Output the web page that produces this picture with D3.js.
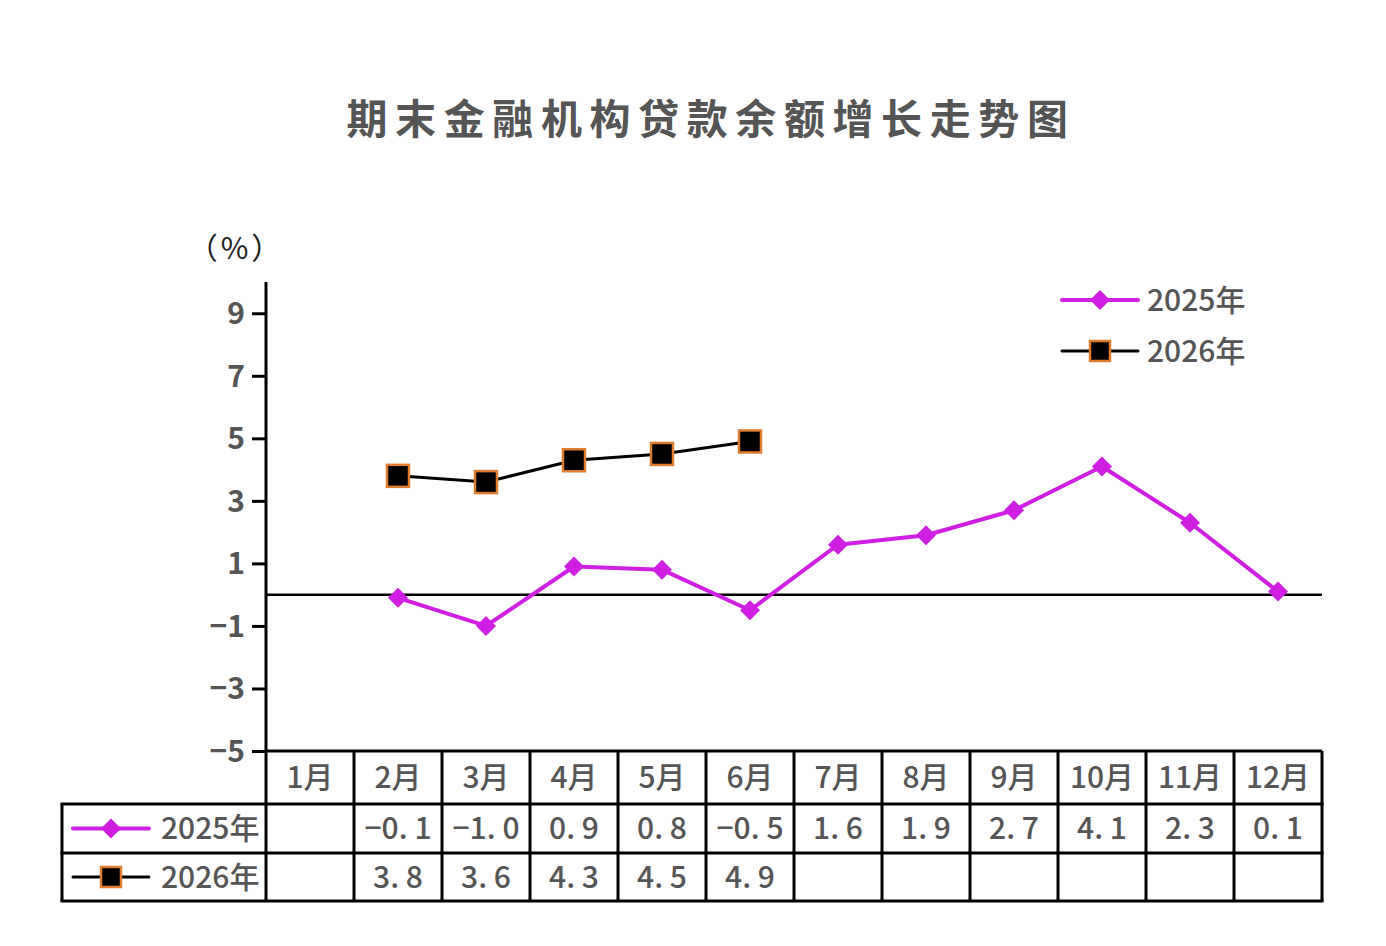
<!DOCTYPE html>
<html>
<head>
<meta charset="utf-8">
<script src="https://cdn.jsdelivr.net/npm/d3@7/dist/d3.min.js"></script>
<style>
  html, body { margin: 0; padding: 0; background: #fff; }
  svg { display: block; }
  text { font-family: "Noto Sans CJK SC", "Noto Sans", sans-serif; }
</style>
</head>
<body>
<svg id="chart" width="1386" height="946"></svg>
<script>
const title = "期末金融机构贷款余额增长走势图";
const unitLabel = "（%）";
const months = ["1月","2月","3月","4月","5月","6月","7月","8月","9月","10月","11月","12月"];
const seriesNames = ["2025年","2026年"];
const values2025 = [null, -0.1, -1.0, 0.9, 0.8, -0.5, 1.6, 1.9, 2.7, 4.1, 2.3, 0.1];
const values2026 = [null, 3.8, 3.6, 4.3, 4.5, 4.9, null, null, null, null, null, null];
const yTicks = [-5, -3, -1, 1, 3, 5, 7, 9];

const textColor = "#555555";
const magenta = "#CF1FE3";
const orange = "#E07B30";

const svg = d3.select("#chart");

const plotLeft = 266, plotRight = 1322, plotTop = 282, plotBottom = 751;
const x = d3.scaleBand().domain(months).range([plotLeft, plotRight]);
const y = d3.scaleLinear().domain([-5, 10]).range([plotBottom, plotTop]);

// Title
svg.append("text")
  .attr("x", 711).attr("y", 134)
  .attr("text-anchor", "middle")
  .attr("font-size", 41).attr("font-weight", "bold")
  .attr("letter-spacing", 7.6)
  .attr("fill", textColor)
  .text(title);

// Unit label
svg.append("text")
  .attr("x", 236).attr("y", 259)
  .attr("text-anchor", "middle")
  .attr("font-size", 30)
  .attr("letter-spacing", 3)
  .attr("fill", "#222")
  .text(unitLabel);

// Y axis
const fmtTick = d => d < 0 ? "\u2212" + Math.abs(d) : String(d);
const yAxis = d3.axisLeft(y).tickValues(yTicks).tickSize(14).tickPadding(7).tickFormat(fmtTick);
const gy = svg.append("g").attr("transform", `translate(${plotLeft},0)`).call(yAxis);
gy.select(".domain").remove();
gy.selectAll(".tick line").attr("stroke", "#000").attr("stroke-width", 3);
gy.selectAll(".tick text")
  .attr("font-size", 30).attr("font-weight", 600)
  .attr("fill", textColor).attr("font-family", "'Noto Sans', sans-serif")
  .attr("dy", "0.35em");

// Axis line
svg.append("line")
  .attr("x1", plotLeft).attr("x2", plotLeft)
  .attr("y1", plotTop).attr("y2", plotBottom)
  .attr("stroke", "#000").attr("stroke-width", 3);

// Zero line
svg.append("line")
  .attr("x1", plotLeft).attr("x2", plotRight)
  .attr("y1", y(0)).attr("y2", y(0))
  .attr("stroke", "#000").attr("stroke-width", 2.5);

const cx = m => x(m) + x.bandwidth() / 2;

const d2025 = months.map((m, i) => ({ m, v: values2025[i] })).filter(d => d.v !== null);
const d2026 = months.map((m, i) => ({ m, v: values2026[i] })).filter(d => d.v !== null);

const line = d3.line().x(d => cx(d.m)).y(d => y(d.v));

svg.append("path").datum(d2025)
  .attr("d", line).attr("fill", "none")
  .attr("stroke", magenta).attr("stroke-width", 4).attr("stroke-linejoin", "round");

const diamond = d3.symbol().type(d3.symbolSquare).size(200);
svg.selectAll(".dm").data(d2025).enter().append("path")
  .attr("d", diamond)
  .attr("transform", d => `translate(${cx(d.m)},${y(d.v)}) rotate(45)`)
  .attr("fill", magenta);

svg.append("path").datum(d2026)
  .attr("d", line).attr("fill", "none")
  .attr("stroke", "#000").attr("stroke-width", 3);

svg.selectAll(".sq").data(d2026).enter().append("rect")
  .attr("x", d => cx(d.m) - 11).attr("y", d => y(d.v) - 11)
  .attr("width", 22).attr("height", 22)
  .attr("fill", "#000").attr("stroke", orange).attr("stroke-width", 2.5);

// Legend marker helper
function legendMarker(g, xc, yc, idx, half) {
  if (idx === 0) {
    g.append("line").attr("x1", xc - half).attr("x2", xc + half).attr("y1", yc).attr("y2", yc)
      .attr("stroke", magenta).attr("stroke-width", 4).attr("stroke-linecap", "round");
    g.append("path").attr("d", diamond).attr("transform", `translate(${xc},${yc}) rotate(45)`).attr("fill", magenta);
  } else {
    g.append("line").attr("x1", xc - half).attr("x2", xc + half).attr("y1", yc).attr("y2", yc)
      .attr("stroke", "#000").attr("stroke-width", 3).attr("stroke-linecap", "round");
    g.append("rect").attr("x", xc - 10).attr("y", yc - 10).attr("width", 20).attr("height", 20)
      .attr("fill", "#000").attr("stroke", orange).attr("stroke-width", 2.5);
  }
}
const lg = svg.append("g");
seriesNames.forEach((name, i) => {
  const yc = 300 + i * 51;
  legendMarker(lg, 1100, yc, i, 38);
  lg.append("text").attr("x", 1147).attr("y", yc).attr("dy", "0.36em")
    .attr("font-size", 30).attr("font-weight", 500).attr("fill", textColor).text(name);
});

// Table
const rowTops = [751, 804, 853, 901];
const tableLeft = 62;
const tg = svg.append("g");
const tStroke = 3;
tg.append("line").attr("x1", plotLeft).attr("x2", plotRight).attr("y1", rowTops[0]).attr("y2", rowTops[0])
  .attr("stroke", "#000").attr("stroke-width", tStroke);
[1, 2, 3].forEach(r => {
  tg.append("line").attr("x1", tableLeft).attr("x2", plotRight).attr("y1", rowTops[r]).attr("y2", rowTops[r])
    .attr("stroke", "#000").attr("stroke-width", tStroke).attr("stroke-linecap", "square");
});
tg.append("line").attr("x1", tableLeft).attr("x2", tableLeft).attr("y1", rowTops[1]).attr("y2", rowTops[3])
  .attr("stroke", "#000").attr("stroke-width", tStroke);
months.forEach(m => {
  tg.append("line").attr("x1", x(m)).attr("x2", x(m)).attr("y1", rowTops[0]).attr("y2", rowTops[3])
    .attr("stroke", "#000").attr("stroke-width", tStroke);
});
tg.append("line").attr("x1", plotRight).attr("x2", plotRight).attr("y1", rowTops[0]).attr("y2", rowTops[3])
  .attr("stroke", "#000").attr("stroke-width", tStroke);

months.forEach(m => {
  tg.append("text").attr("x", cx(m)).attr("y", (rowTops[0] + rowTops[1]) / 2).attr("dy", "0.36em")
    .attr("text-anchor", "middle").attr("font-size", 30).attr("font-weight", 500)
    .attr("fill", textColor).text(m);
});
const fmtVal = v => v === null ? "" : v.toFixed(1).replace(".", ". ").replace("-", "\u2212");
[values2025, values2026].forEach((vals, r) => {
  const yc = (rowTops[r + 1] + rowTops[r + 2]) / 2;
  legendMarker(tg, 111, yc, r, 38);
  tg.append("text").attr("x", 161).attr("y", yc).attr("dy", "0.36em")
    .attr("font-size", 30).attr("font-weight", 500).attr("fill", textColor).text(seriesNames[r]);
  months.forEach((m, i) => {
    tg.append("text").attr("x", cx(m)).attr("y", yc).attr("dy", "0.36em")
      .attr("text-anchor", "middle").attr("font-size", 30).attr("font-weight", 500).attr("fill", textColor)
      .attr("xml:space", "preserve").style("white-space", "pre")
      .text(fmtVal(vals[i]));
  });
});
</script>
</body>
</html>
